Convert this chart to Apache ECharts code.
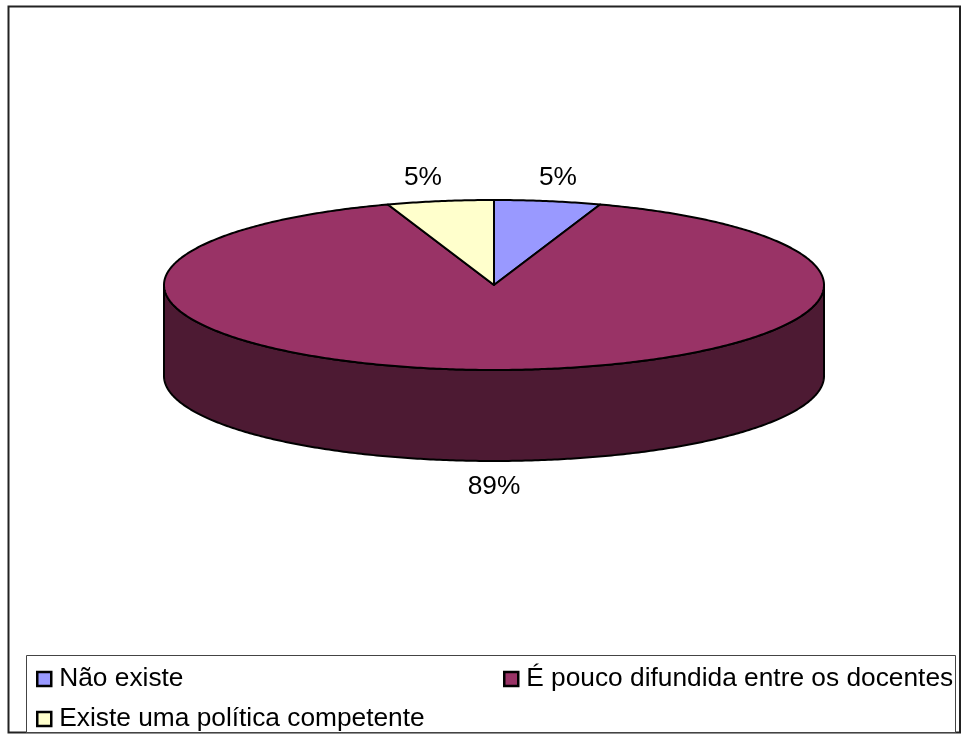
<!DOCTYPE html>
<html>
<head>
<meta charset="utf-8">
<style>html,body{margin:0;padding:0;background:#fff}#c{width:965px;height:736px}</style>
<script src="https://cdn.jsdelivr.net/npm/echarts@6/dist/echarts.min.js"></script>
</head>
<body>
<div id="c"></div>
<script>
const categories = ['Não existe', 'É pouco difundida entre os docentes', 'Existe uma política competente'];
const values = [5.2, 89.4, 5.2];
const topColors = ['#9999FF', '#993366', '#FFFFCC'];
const sideColors = ['#4D4D80', '#4D1A33', '#808066'];
const FONT = '"Liberation Sans", Arial, sans-serif';
const FS = 26.3;
const cx = 494, cy = 285, rx = 330, ry = 85, depth = 91;
const labelOffsets = [[64, -107], [0, 202], [-71, -107]];

const total = values.reduce((a, b) => a + b, 0);
const startFrac = values.map((v, i) => values.slice(0, i).reduce((a, b) => a + b, 0) / total);
const pt = (t, dy) => [cx + rx * Math.sin(t), cy + dy - ry * Math.cos(t)];
const arc = (a, b, dy) => {
  const n = Math.max(2, Math.ceil(Math.abs(b - a) / 0.01));
  const out = [];
  for (let k = 0; k <= n; k++) out.push(pt(a + (b - a) * k / n, dy));
  return out;
};

function renderSlice(i) {
  const a = startFrac[i] * 2 * Math.PI;
  const b = a + values[i] / total * 2 * Math.PI;
  const children = [];
  const sa = Math.max(a, Math.PI / 2), sb = Math.min(b, 1.5 * Math.PI);
  if (sb > sa) {
    children.push({
      type: 'polygon',
      shape: { points: arc(sa, sb, 0).concat(arc(sb, sa, depth)) },
      style: { fill: sideColors[i], stroke: '#000', lineWidth: 2, lineJoin: 'round' }
    });
  }
  children.push({
    type: 'polygon',
    shape: { points: [[cx, cy]].concat(arc(a, b, 0)) },
    style: { fill: topColors[i], stroke: '#000', lineWidth: 2, lineJoin: 'round' }
  });
  children.push({
    type: 'text',
    style: {
      text: Math.round(values[i]) + '%',
      x: cx + labelOffsets[i][0],
      y: cy + labelOffsets[i][1],
      fill: '#000', font: FS + 'px ' + FONT, align: 'center', verticalAlign: 'middle'
    }
  });
  return { type: 'group', children };
}

const series = categories.map((name, i) => ({
  name,
  type: 'custom',
  coordinateSystem: 'none',
  silent: true,
  animation: false,
  data: [values[i]],
  itemStyle: { color: topColors[i] },
  renderItem: () => renderSlice(i)
}));

const legendBase = {
  orient: 'vertical', top: 666, itemWidth: 14, itemHeight: 14, itemGap: 14, icon: 'rect',
  itemStyle: { borderColor: '#000', borderWidth: 2.5 },
  textStyle: { fontFamily: FONT, fontSize: FS, color: '#000', padding: [2, 0, 0, 3] },
  selectedMode: false, padding: 0
};

const chart = echarts.init(document.getElementById('c'), null, { renderer: 'canvas' });
chart.setOption({
  backgroundColor: '#fff',
  animation: false,
  legend: [
    Object.assign({}, legendBase, { left: 36, data: [categories[0], categories[2]] }),
    Object.assign({}, legendBase, { left: 503, data: [categories[1]] })
  ],
  graphic: [
    { type: 'rect', silent: true, z: -1, shape: { x: 8.5, y: 6.5, width: 951.5, height: 726 }, style: { fill: 'none', stroke: '#222', lineWidth: 2 } },
    { type: 'rect', silent: true, z: -1, shape: { x: 26.5, y: 655.5, width: 929, height: 77 }, style: { fill: '#fff', stroke: '#444', lineWidth: 1 } }
  ],
  series
});
</script>
</body>
</html>
